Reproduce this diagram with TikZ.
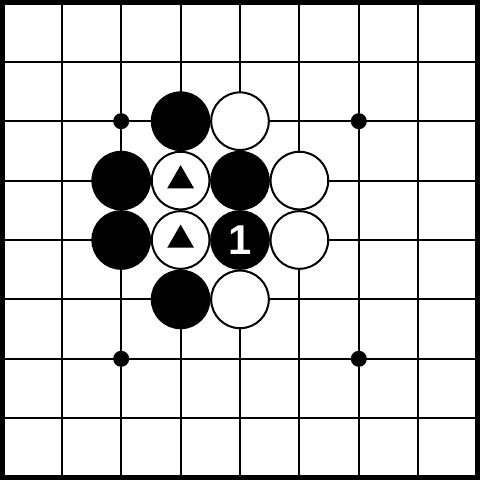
\documentclass[tikz,border=0pt]{standalone}
\usepackage{fontspec}
\newfontfamily\stonefont{Liberation Sans}
\usetikzlibrary{shapes.geometric}
\tikzset{
  stone/.style={circle,draw=black,line width=0.034cm,minimum size=0.97cm,inner sep=0pt},
  bstone/.style={stone,fill=black,text=white,font=\stonefont\bfseries\fontsize{20}{20}\selectfont},
  wstone/.style={stone,fill=white},
  hoshi/.style={circle,fill=black,minimum size=0.27cm,inner sep=0pt},
  tri/.style={regular polygon,regular polygon sides=3,fill=black,minimum size=0.52cm,inner sep=0pt}
}
\begin{document}
\begin{tikzpicture}
\useasboundingbox (-0.04,-0.04) rectangle (8.04,8.04);
\draw[line width=0.036cm] (0,0) grid (8,8);
\draw[line width=0.084cm] (0,0) rectangle (8,8);

% star points
\node[hoshi] (h1) at (2,6) {};
\node[hoshi] (h2) at (6,6) {};
\node[hoshi] (h3) at (2,2) {};
\node[hoshi] (h4) at (6,2) {};

% stones
\node[bstone] (b1) at (3,6) {};
\node[wstone] (w1) at (4,6) {};

\node[bstone] (b2) at (2,5) {};
\node[wstone] (w2) at (3,5) {};
\node[bstone] (b3) at (4,5) {};
\node[wstone] (w3) at (5,5) {};

\node[bstone] (b4) at (2,4) {};
\node[wstone] (w4) at (3,4) {};
\node[bstone] (b5) at (4,4) {1};
\node[wstone] (w5) at (5,4) {};

\node[bstone] (b6) at (3,3) {};
\node[wstone] (w6) at (4,3) {};

% marks
\node[tri] (t1) at (w2) {};
\node[tri] (t2) at (w4) {};
\end{tikzpicture}
\end{document}
